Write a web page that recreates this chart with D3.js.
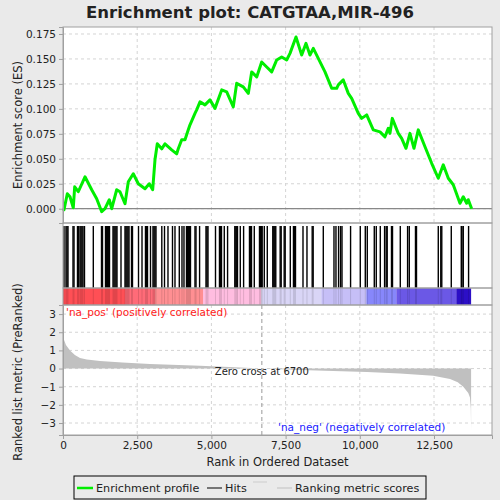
<!DOCTYPE html>
<html>
<head>
<meta charset="utf-8">
<script src="https://cdn.jsdelivr.net/npm/d3@7"></script>
<style>
  body { margin: 0; background: #eaeaea; }
  svg { display: block; font-family: "DejaVu Sans", sans-serif; }
</style>
</head>
<body>
<div id="chart"></div>
<script>
// running enrichment score (rank, ES)
var esRanks = [0, 34, 145, 236, 347, 394, 515, 741, 967, 1135, 1304, 1415, 1560, 1641, 1809, 1920, 2089, 2200, 2368, 2537,
  2763, 2907, 3022, 3099, 3177, 3325, 3436, 3662, 3831, 3884, 3999, 4110, 4221, 4279, 4447, 4504, 4616, 4784, 4952, 5121,
  5347, 5515, 5737, 5852, 6074, 6243, 6357, 6526, 6694, 6863, 7031, 7200, 7368, 7536, 7648, 7850, 8042, 8187, 8321, 8433,
  8601, 8827, 9053, 9221, 9275, 9443, 9612, 9726, 9949, 10063, 10232, 10454, 10680, 10848, 10959, 11016, 11094, 11296, 11411, 11556,
  11690, 11825, 11970, 12196, 12422, 12644, 12812, 12981, 13149, 13375, 13486, 13601, 13655, 13769];
var esValues = [0.000, -0.001, 0.015, 0.012, 0.001, 0.022, 0.017, 0.032, 0.019, 0.010, -0.003, 0.000, 0.009, 0.000, 0.019, 0.017, 0.005, 0.027, 0.035, 0.025,
  0.020, 0.025, 0.019, 0.049, 0.065, 0.060, 0.065, 0.059, 0.055, 0.060, 0.069, 0.069, 0.079, 0.084, 0.0955, 0.099, 0.107, 0.104, 0.109, 0.1005,
  0.119, 0.117, 0.102, 0.1256, 0.122, 0.1155, 0.137, 0.132, 0.147, 0.142, 0.137, 0.149, 0.152, 0.149, 0.1556, 0.172, 0.154, 0.1656, 0.154, 0.1606,
  0.1506, 0.137, 0.1206, 0.1206, 0.124, 0.129, 0.1155, 0.1106, 0.0955, 0.0905, 0.094, 0.079, 0.077, 0.072, 0.0805, 0.0755, 0.0905, 0.0755, 0.0705, 0.0605,
  0.0755, 0.0605, 0.079, 0.062, 0.0455, 0.0305, 0.044, 0.0305, 0.024, 0.0055, 0.012, 0.0055, 0.009, 0.000];

// positions of the gene set members in the ranked list
var hitRanks = [34, 101, 135, 168, 337, 371, 488, 522, 573, 606, 640, 674, 724, 1021, 1297, 1331, 1432, 1466, 1499, 1533,
  1567, 1685, 1718, 1752, 1786, 1819, 1954, 2089, 2122, 2156, 2190, 2224, 2308, 2341, 2544, 2662, 2779, 2813, 2847, 2948,
  3032, 3066, 3099, 3133, 3329, 3420, 3537, 3689, 3773, 3918, 4009, 4076, 4161, 4194, 4228, 4262, 4295, 4447, 4481, 4602,
  4818, 4851, 4885, 5138, 5272, 5306, 5340, 5434, 5545, 5788, 5822, 5855, 5879, 5973, 6085, 6283, 6317, 6351, 6445, 6620,
  6654, 6687, 6711, 6782, 6883, 7068, 7102, 7136, 7169, 7317, 7351, 7452, 7486, 7658, 7765, 7799, 7833, 8086, 8220, 8396,
  8429, 8770, 9130, 9197, 9285, 9352, 9400, 9689, 10016, 10185, 10252, 10488, 10555, 10690, 10835, 10889, 10923, 11068, 11102, 11364,
  11610, 11667, 11876, 11910, 12644, 12728, 12762, 13082, 13419, 13442, 13486, 13665];

// ranked list metric (rank, score)
var metricRanks = [0, 30, 100, 236, 400, 573, 800, 1247, 2000, 2931, 4616, 5600, 6700, 8000, 9100, 10240, 11350, 12470, 13040, 13300, 13487, 13655, 13712, 13740, 13750];
var metricValues = [1.95, 1.6, 1.3, 1.0, 0.75, 0.58, 0.5, 0.42, 0.33, 0.25, 0.15, 0.08, 0.0, -0.08, -0.13, -0.19, -0.27, -0.4, -0.57, -0.75, -1.0, -1.35, -1.6, -2.2, -3.43];

// colour band breaks along the ranked list
var bandStarts = [0, 2089, 3099, 4717, 6683, 8703, 10220, 11230, 13250];
var bandEnds = [2089, 3099, 4717, 6683, 8703, 10220, 11230, 13250, 13750];

var esTicks = [0, 0.025, 0.05, 0.075, 0.1, 0.125, 0.15, 0.175];
var metricTicks = [-3, -2, -1, 0, 1, 2, 3];
var rankTicks = [0, 2500, 5000, 7500, 10000, 12500];
var zeroCross = 6700;

var W = 500, H = 500;
var left = 63, right = 492;
var esTop = 27, esBottom = 223, hitBottom = 288, bandBottom = 305, metTop = 305, metBottom = 435;

var svg = d3.select('#chart').append('svg')
    .attr('width', W)
    .attr('height', H);

svg.append('rect').attr('width', W).attr('height', H).attr('fill', '#eaeaea');

var x = d3.scaleLinear().domain([0, 14454]).range([left, right]);
var yEs = d3.scaleLinear().domain([-0.0143, 0.182]).range([esBottom, esTop]);
var yMet = d3.scaleLinear().domain([-3.66, 3.5]).range([metBottom, metTop]);

var bandColors = ['#ff4f55', '#ff6b78', '#ff8f92', '#ffbde0', '#d9d5f6', '#c6bff7', '#8787fb', '#6b58e6', '#2c0fc6'];

// panel backgrounds
svg.append('rect').attr('x', left).attr('y', esTop).attr('width', right - left).attr('height', esBottom - esTop).attr('fill', '#fff');
svg.append('rect').attr('x', left).attr('y', esBottom).attr('width', right - left).attr('height', hitBottom - esBottom).attr('fill', '#fff');
svg.append('rect').attr('x', left).attr('y', metTop).attr('width', right - left).attr('height', metBottom - metTop).attr('fill', '#fff');
svg.append('rect').attr('x', left).attr('y', hitBottom).attr('width', right - left).attr('height', bandBottom - hitBottom).attr('fill', '#fff');

// grid lines
var grid = svg.append('g').attr('stroke', '#d4d4d4').attr('stroke-dasharray', '3,3').attr('stroke-width', 1);
esTicks.forEach(function(t) {
    grid.append('line').attr('x1', left).attr('x2', right).attr('y1', yEs(t)).attr('y2', yEs(t));
});
metricTicks.forEach(function(t) {
    grid.append('line').attr('x1', left).attr('x2', right).attr('y1', yMet(t)).attr('y2', yMet(t));
});
rankTicks.slice(1).forEach(function(t) {
    grid.append('line').attr('x1', x(t)).attr('x2', x(t)).attr('y1', esTop).attr('y2', esBottom);
    grid.append('line').attr('x1', x(t)).attr('x2', x(t)).attr('y1', metTop).attr('y2', metBottom);
});

// ES zero line
svg.append('line').attr('x1', left).attr('x2', right).attr('y1', yEs(0)).attr('y2', yEs(0))
    .attr('stroke', '#888').attr('stroke-width', 1.2);

// metric area
var metric = metricRanks.map(function(r, i) { return [r, metricValues[i]]; });
svg.append('path')
    .datum(metric)
    .attr('fill', '#c0c0c0')
    .attr('d', d3.area()
        .x(function(d) { return x(d[0]); })
        .y0(yMet(0))
        .y1(function(d) { return yMet(d[1]); }));

// zero cross marker
svg.append('line').attr('x1', x(zeroCross)).attr('x2', x(zeroCross)).attr('y1', metTop).attr('y2', metBottom)
    .attr('stroke', '#999').attr('stroke-dasharray', '4,3');
svg.append('text').attr('x', x(zeroCross)).attr('y', yMet(0) + 6).attr('text-anchor', 'middle')
    .attr('font-size', 10).attr('fill', '#222').text('Zero cross at ' + zeroCross);

// colour band
svg.selectAll('rect.band')
    .data(bandStarts)
    .enter().append('rect')
    .attr('class', 'band')
    .attr('x', function(d) { return x(d); })
    .attr('width', function(d, i) { return x(bandEnds[i]) - x(d); })
    .attr('y', hitBottom)
    .attr('height', bandBottom - hitBottom)
    .attr('fill', function(d, i) { return bandColors[i]; });
svg.selectAll('line.bandhit')
    .data(hitRanks)
    .enter().append('line')
    .attr('class', 'bandhit')
    .attr('x1', function(d) { return x(d); })
    .attr('x2', function(d) { return x(d); })
    .attr('y1', hitBottom)
    .attr('y2', bandBottom)
    .attr('stroke', '#000')
    .attr('stroke-opacity', 0.12);

// hits
svg.selectAll('line.hit')
    .data(hitRanks)
    .enter().append('line')
    .attr('class', 'hit')
    .attr('x1', function(d) { return x(d); })
    .attr('x2', function(d) { return x(d); })
    .attr('y1', esBottom + 3)
    .attr('y2', hitBottom)
    .attr('stroke', '#000')
    .attr('stroke-width', 1.4);

// enrichment profile
var es = esRanks.map(function(r, i) { return [r, esValues[i]]; });
svg.append('path')
    .datum(es)
    .attr('fill', 'none')
    .attr('stroke', '#00ee00')
    .attr('stroke-width', 3)
    .attr('stroke-linejoin', 'round')
    .attr('d', d3.line()
        .x(function(d) { return x(d[0]); })
        .y(function(d) { return yEs(d[1]); }));

// panel borders
[[esTop, esBottom], [esBottom, hitBottom], [hitBottom, bandBottom], [metTop, metBottom]].forEach(function(p) {
    svg.append('rect').attr('x', left).attr('y', p[0]).attr('width', right - left).attr('height', p[1] - p[0])
        .attr('fill', 'none').attr('stroke', '#a0a0a0');
});

// axes
var yEsAxis = svg.append('g').attr('transform', 'translate(' + left + ',0)')
    .call(d3.axisLeft(yEs).tickValues(esTicks).tickFormat(d3.format('.3f')).tickSize(4));
var yMetAxis = svg.append('g').attr('transform', 'translate(' + left + ',0)')
    .call(d3.axisLeft(yMet).tickValues(metricTicks).tickFormat(d3.format('d')).tickSize(4));
var xAxis = svg.append('g').attr('transform', 'translate(0,' + metBottom + ')')
    .call(d3.axisBottom(x).tickValues(rankTicks).tickFormat(d3.format(',')).tickSize(4));
[yEsAxis, yMetAxis, xAxis].forEach(function(a) {
    a.selectAll('path').attr('stroke', '#a0a0a0');
    a.selectAll('line').attr('stroke', '#a0a0a0');
    a.selectAll('text').attr('font-size', 10.5).attr('fill', '#222').attr('font-family', '"DejaVu Sans", sans-serif');
});

// labels
svg.append('text').attr('x', 250).attr('y', 18).attr('text-anchor', 'middle')
    .attr('font-size', 16.5).attr('font-weight', 'bold').attr('fill', '#222')
    .text('Enrichment plot: CATGTAA,MIR-496');
svg.append('text').attr('transform', 'translate(22,' + ((esTop + esBottom) / 2) + ') rotate(-90)')
    .attr('text-anchor', 'middle').attr('font-size', 11.5).attr('fill', '#222')
    .text('Enrichment score (ES)');
svg.append('text').attr('transform', 'translate(22,' + ((metTop + metBottom) / 2 + 2) + ') rotate(-90)')
    .attr('text-anchor', 'middle').attr('font-size', 11.5).attr('fill', '#222')
    .text('Ranked list metric (PreRanked)');
svg.append('text').attr('x', (left + right) / 2).attr('y', 466).attr('text-anchor', 'middle')
    .attr('font-size', 11.5).attr('fill', '#222')
    .text('Rank in Ordered Dataset');
svg.append('text').attr('x', left + 3).attr('y', 316).attr('font-size', 10.5).attr('fill', '#ff2020')
    .text("'na_pos' (positively correlated)");
svg.append('text').attr('x', 278).attr('y', 431).attr('font-size', 10.5).attr('fill', '#2020ff')
    .text("'na_neg' (negatively correlated)");

// legend
var lg = svg.append('g');
lg.append('rect').attr('x', 74).attr('y', 476).attr('width', 352).attr('height', 23)
    .attr('fill', '#eaeaea').attr('stroke', '#000');
lg.append('line').attr('x1', 77).attr('x2', 93).attr('y1', 488).attr('y2', 488).attr('stroke', '#00ee00').attr('stroke-width', 2.5);
lg.append('text').attr('x', 96).attr('y', 492).attr('font-size', 11.2).attr('fill', '#222').text('Enrichment profile');
lg.append('line').attr('x1', 207).attr('x2', 222).attr('y1', 488).attr('y2', 488).attr('stroke', '#000');
lg.append('text').attr('x', 225).attr('y', 492).attr('font-size', 11.2).attr('fill', '#222').text('Hits');
lg.append('line').attr('x1', 253).attr('x2', 267).attr('y1', 482).attr('y2', 482).attr('stroke', '#ccc');
lg.append('line').attr('x1', 277).attr('x2', 292).attr('y1', 488).attr('y2', 488).attr('stroke', '#c0c0c0');
lg.append('text').attr('x', 295).attr('y', 492).attr('font-size', 11.2).attr('fill', '#222').text('Ranking metric scores');
</script>
</body>
</html>
